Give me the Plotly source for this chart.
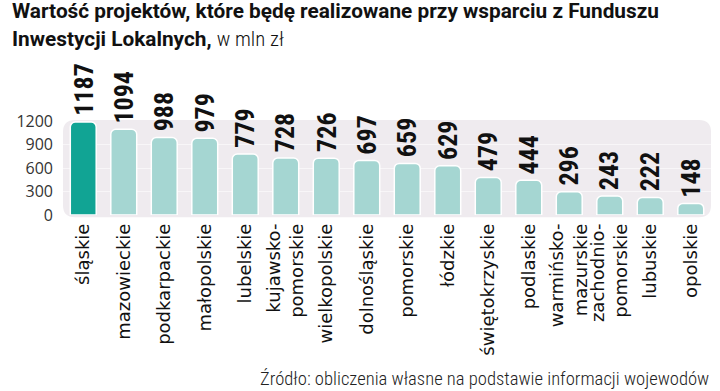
import plotly.graph_objects as go

categories = ["śląskie", "mazowieckie", "podkarpackie", "małopolskie", "lubelskie",
              "kujawsko-<br>pomorskie", "wielkopolskie", "dolnośląskie", "pomorskie",
              "łódzkie", "świętokrzyskie", "podlaskie", "warmińsko-<br>mazurskie",
              "zachodnio-<br>pomorskie", "lubuskie", "opolskie"]
values = [1187, 1094, 988, 979, 779, 728, 726, 697, 659, 629, 479, 444, 296, 243, 222, 148]
y_ticks = [0, 300, 600, 900, 1200]

DARK = "#11a494"
LIGHT = "#a5d6d2"
NARROW = "Roboto Condensed, Liberation Sans Narrow, Roboto, sans-serif"
TITLE_FONT = "Roboto, sans-serif"

x_idx = list(range(len(categories)))
colors = [DARK] + [LIGHT] * (len(values) - 1)

PLOT_TOP, PLOT_BOT = 121.0, 215.0
PH = PLOT_BOT - PLOT_TOP


def py(px):
    return (PLOT_BOT - px) / PH


fig = go.Figure()
fig.add_trace(go.Bar(
    x=x_idx, y=values,
    marker=dict(color=colors, line=dict(color="white", width=1.5), cornerradius=5),
    hoverinfo="skip",
))

for xi, v in zip(x_idx, values):
    fig.add_annotation(
        x=xi, y=v, xref="x", yref="y", text=str(v), textangle=-90,
        showarrow=False, yanchor="bottom", xanchor="center", yshift=4,
        font=dict(family=NARROW, size=26, color="#111111", weight="bold"),
    )

# rounded background panel
W, H = 648.0, PH
r = 12.0
rx, ry = r / W, r / H
x0, x1, y0, y1 = 0.0, 1.0, -0.025, 1.01
path = (f"M {x0+rx},{y0} L {x1-rx},{y0} Q {x1},{y0} {x1},{y0+ry} "
        f"L {x1},{y1-ry} Q {x1},{y1} {x1-rx},{y1} L {x0+rx},{y1} "
        f"Q {x0},{y1} {x0},{y1-ry} L {x0},{y0+ry} Q {x0},{y0} {x0+rx},{y0} Z")
fig.add_shape(type="path", path=path, xref="paper", yref="paper",
              fillcolor="#efebef", line=dict(width=0), layer="below")

# title lines
fig.add_annotation(
    x=(10 - 63) / 648.0, y=py(-3), xref="paper", yref="paper",
    text="<b>Wartość projektów, które będę realizowane przy wsparciu z Funduszu</b>",
    showarrow=False, xanchor="left", yanchor="top",
    font=dict(family=TITLE_FONT, size=20.8, color="#111111"),
)
fig.add_annotation(
    x=(10 - 63) / 648.0, y=py(25), xref="paper", yref="paper",
    text="<b>Inwestycji Lokalnych,</b> "
         "<span style='font-family:Roboto Condensed;font-weight:300'>w mln zł</span>",
    showarrow=False, xanchor="left", yanchor="top",
    font=dict(family=TITLE_FONT, size=20.8, color="#111111"),
)

fig.add_annotation(
    x=1.0, y=py(379), xref="paper", yref="paper",
    text="Źródło: obliczenia własne na podstawie informacji wojewodów",
    showarrow=False, xanchor="right", yanchor="middle",
    font=dict(family=NARROW, size=18.6, color="#222222", weight=300),
)

fig.update_layout(
    width=720, height=391,
    margin=dict(l=63, r=9, t=121, b=176, autoexpand=False),
    paper_bgcolor="white", plot_bgcolor="rgba(0,0,0,0)",
    bargap=0.36, showlegend=False,
    xaxis=dict(
        tickmode="array", tickvals=x_idx, ticktext=categories, tickangle=-90,
        range=[-0.5, len(categories) - 0.5], showgrid=False, zeroline=False,
        showline=False, ticks="", ticklabelstandoff=4, automargin=False,
        tickfont=dict(family="DejaVu Sans, sans-serif", size=18, color="#111111"),
    ),
    yaxis=dict(
        range=[0, 1200], tickvals=y_ticks, showgrid=True, automargin=False,
        gridcolor="#f8f6f8", gridwidth=1, zeroline=False, showline=False,
        ticks="", ticklabelstandoff=9,
        tickfont=dict(family="Open Sans, sans-serif", size=16, color="#333333"),
    ),
)

fig.write_html("out.html", config={"displayModeBar": False},
               post_script="document.body.style.margin='0px';")
